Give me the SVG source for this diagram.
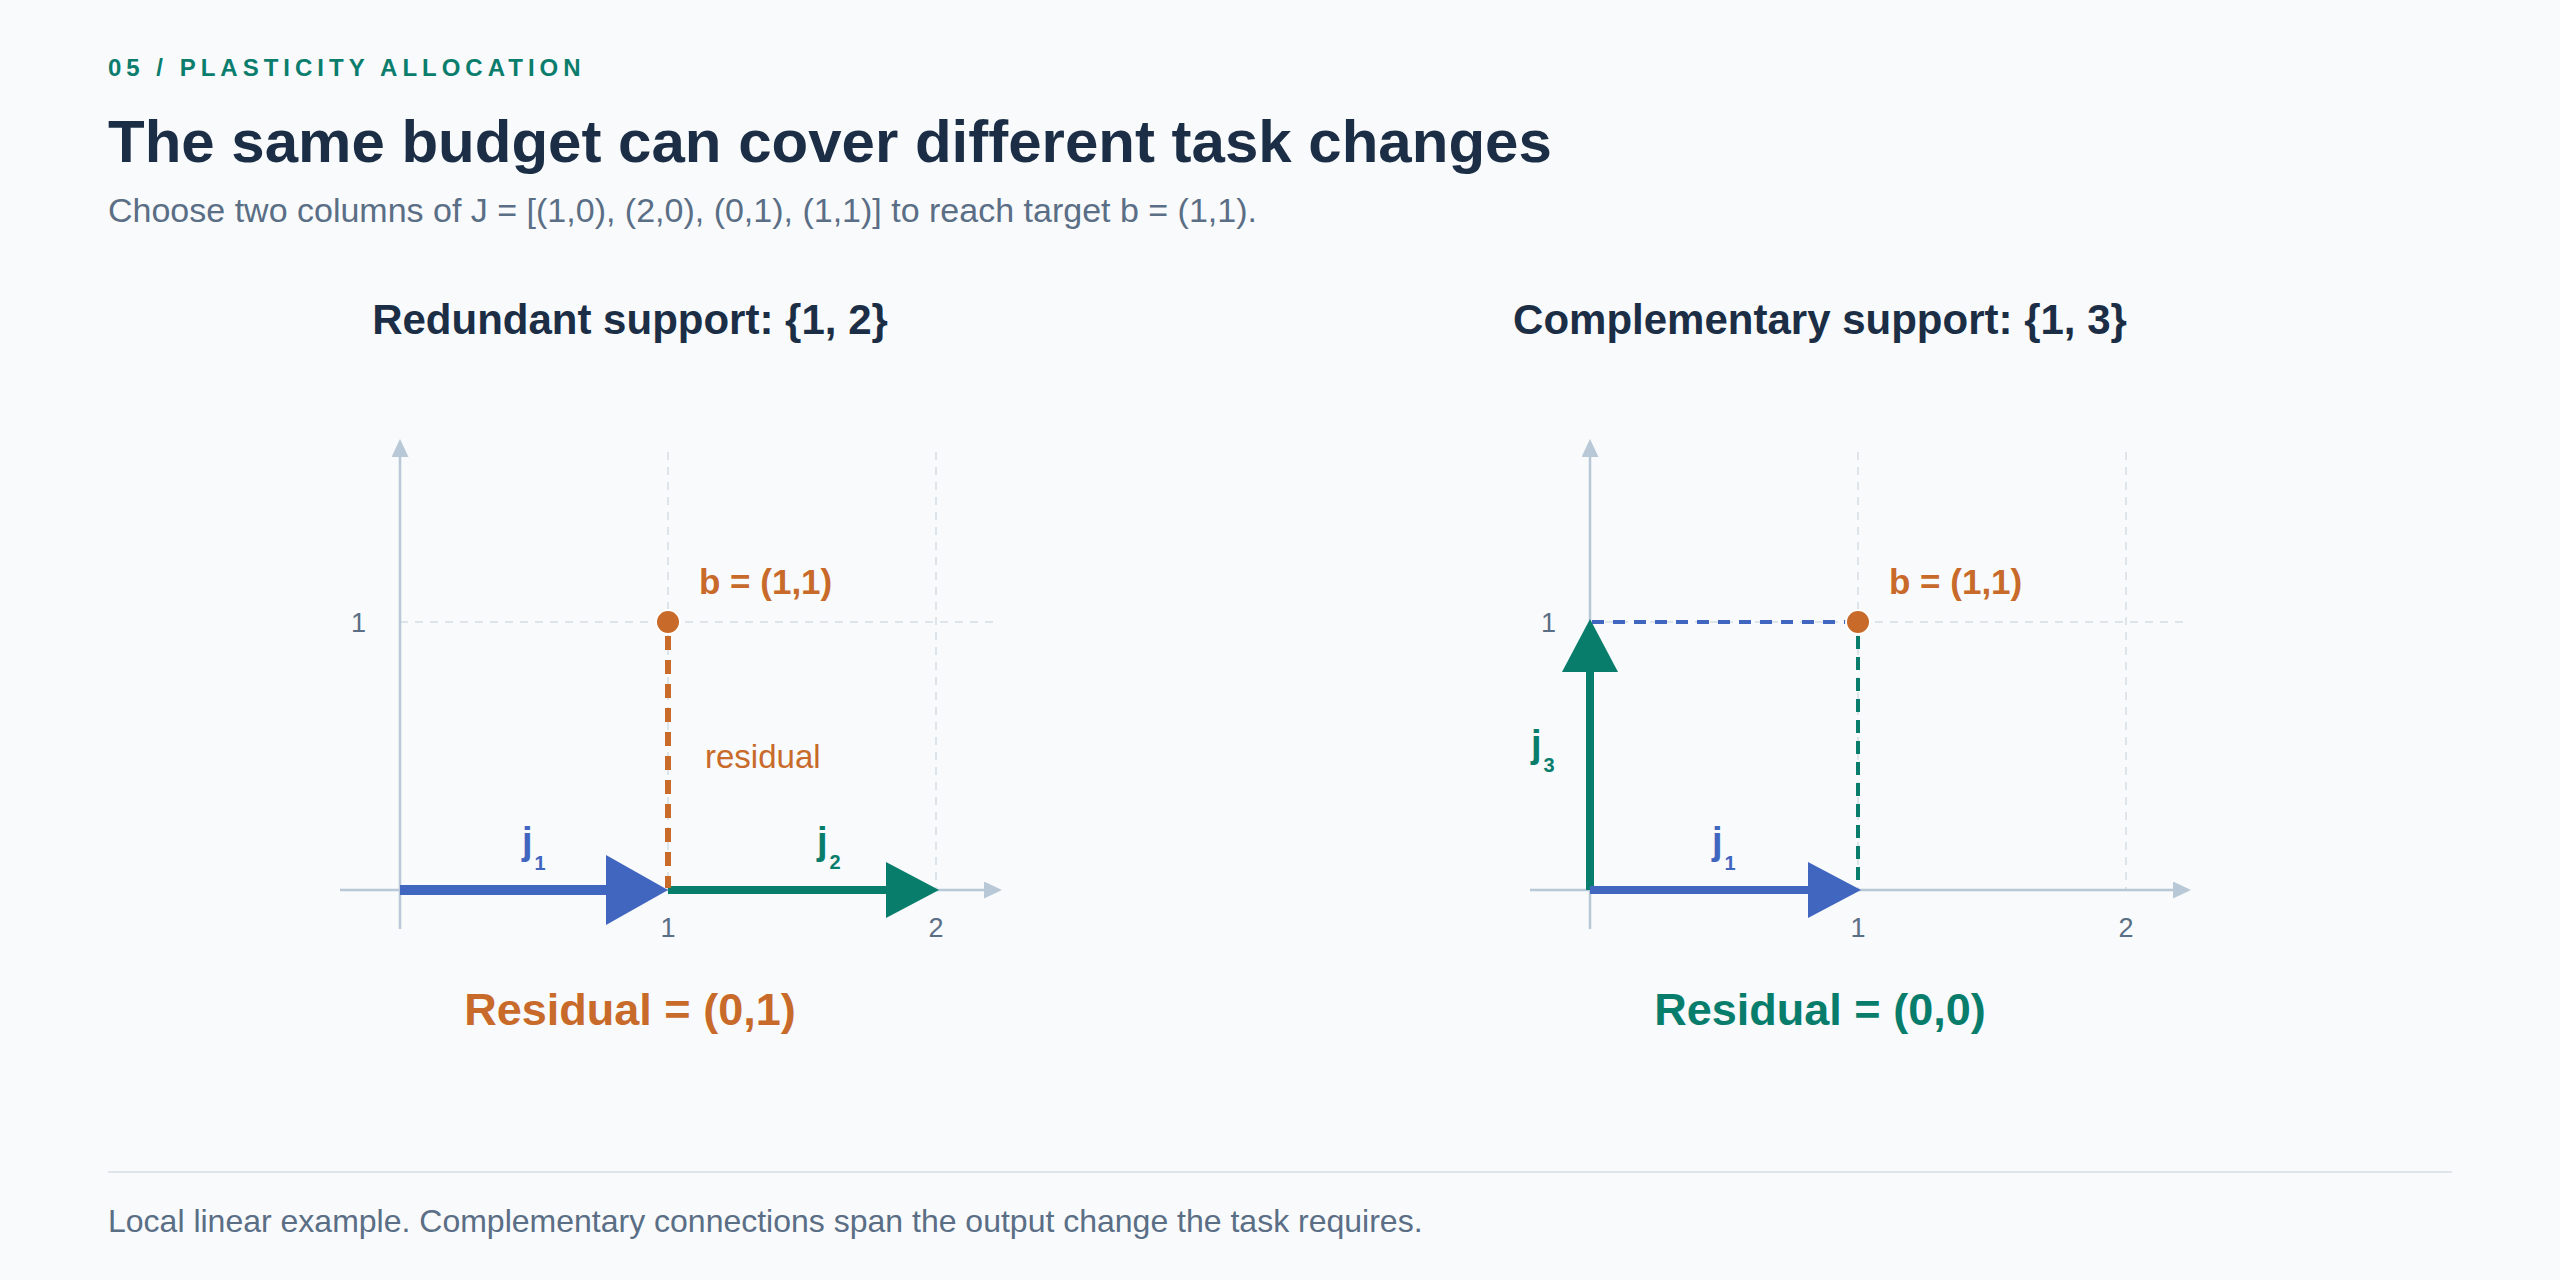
<svg xmlns="http://www.w3.org/2000/svg" width="2560" height="1280" viewBox="0 0 2560 1280">
<defs>
<style>
text{font-family:"Liberation Sans",Arial,sans-serif}
.kicker{font-size:24px;font-weight:700;fill:#0a7d6c;letter-spacing:5px}
.title{font-size:60px;font-weight:700;fill:#1b2e45}
.sub{font-size:34px;fill:#5a6e85}
.ptitle{font-size:42px;font-weight:700;fill:#1b2e45;text-anchor:middle}
.tick{font-size:27px;fill:#5a6e85}
.axis{stroke:#b8c8d6;stroke-width:2.5;fill:none}
.grid{stroke:#dde4ea;stroke-width:2;stroke-dasharray:8 7;fill:none}
.blab{font-size:35px;font-weight:700;fill:#c86a2a}
.jl{font-size:38px;font-weight:700}
.js{font-size:20px}
.res{font-size:45px;font-weight:700;text-anchor:middle}
.foot{font-size:32px;fill:#5a6e85}
.pt{fill:#c86a2a;stroke:#ffffff;stroke-width:2}
</style>
<marker id="ax" markerUnits="userSpaceOnUse" markerWidth="18" markerHeight="17" refX="0" refY="8.5" orient="auto"><path d="M0,0L18,8.5L0,17z" fill="#b8c8d6"/></marker>
<marker id="hBlueL" markerUnits="userSpaceOnUse" markerWidth="62" markerHeight="70" refX="42" refY="35" orient="auto"><path d="M0,0L62,35L0,70z" fill="#4166c0"/></marker>
<marker id="hBlue" markerUnits="userSpaceOnUse" markerWidth="53" markerHeight="56" refX="33" refY="28" orient="auto"><path d="M0,0L53,28L0,56z" fill="#4166c0"/></marker>
<marker id="hTeal" markerUnits="userSpaceOnUse" markerWidth="53" markerHeight="56" refX="33" refY="28" orient="auto"><path d="M0,0L53,28L0,56z" fill="#087d6c"/></marker>
</defs>
<rect x="0" y="0" width="2560" height="1280" fill="#f8fafc"/>

<g id="header">
<text class="kicker" x="108" y="76">05 / PLASTICITY ALLOCATION</text>
<text class="title" x="108" y="162">The same budget can cover different task changes</text>
<text class="sub" x="108" y="222">Choose two columns of J = [(1,0), (2,0), (0,1), (1,1)] to reach target b = (1,1).</text>
</g>

<g id="panel-redundant">
<text class="ptitle" x="630" y="334">Redundant support: {1, 2}</text>
<g id="axes-left">
<line class="grid" x1="668" y1="452" x2="668" y2="890"/>
<line class="grid" x1="936" y1="452" x2="936" y2="890"/>
<line class="grid" x1="400" y1="622" x2="1000" y2="622"/>
<line class="axis" x1="340" y1="890" x2="984" y2="890" marker-end="url(#ax)"/>
<line class="axis" x1="400" y1="929" x2="400" y2="457" marker-end="url(#ax)"/>
<text class="tick" x="668" y="937" text-anchor="middle">1</text>
<text class="tick" x="936" y="937" text-anchor="middle">2</text>
<text class="tick" x="366" y="632" text-anchor="end">1</text>
</g>
</g>

<g id="panel-complementary">
<text class="ptitle" x="1820" y="334">Complementary support: {1, 3}</text>
<g id="axes-right">
<line class="grid" x1="1858" y1="452" x2="1858" y2="890"/>
<line class="grid" x1="2126" y1="452" x2="2126" y2="890"/>
<line class="grid" x1="1590" y1="622" x2="2190" y2="622"/>
<line class="axis" x1="1530" y1="890" x2="2173" y2="890" marker-end="url(#ax)"/>
<line class="axis" x1="1590" y1="929" x2="1590" y2="457" marker-end="url(#ax)"/>
<text class="tick" x="1858" y="937" text-anchor="middle">1</text>
<text class="tick" x="2126" y="937" text-anchor="middle">2</text>
<text class="tick" x="1556" y="632" text-anchor="end">1</text>
</g>
</g>

<g id="connectors">
<line id="j1-left" x1="400" y1="890" x2="648" y2="890" stroke="#4166c0" stroke-width="10" marker-end="url(#hBlueL)"/>
<line id="j2-left" x1="668" y1="890" x2="919" y2="890" stroke="#087d6c" stroke-width="8" marker-end="url(#hTeal)"/>
<line id="residual-left" x1="668" y1="636" x2="668" y2="888" stroke="#c86a2a" stroke-width="6" stroke-dasharray="14 10"/>
<line id="j3-right" x1="1590" y1="890" x2="1590" y2="639" stroke="#087d6c" stroke-width="8" marker-end="url(#hTeal)"/>
<line id="j1-right" x1="1590" y1="890" x2="1841" y2="890" stroke="#4166c0" stroke-width="8" marker-end="url(#hBlue)"/>
<line id="proj-h-right" x1="1592" y1="622" x2="1846" y2="622" stroke="#4166c0" stroke-width="4" stroke-dasharray="12 9"/>
<line id="proj-v-right" x1="1858" y1="636" x2="1858" y2="888" stroke="#087d6c" stroke-width="4" stroke-dasharray="13 8"/>
</g>

<g id="target-left">
<circle class="pt" cx="668" cy="622" r="12"/>
<text class="blab" x="699" y="594">b = (1,1)</text>
</g>
<g id="target-right">
<circle class="pt" cx="1858" cy="622" r="12"/>
<text class="blab" x="1889" y="594">b = (1,1)</text>
</g>

<g id="labels">
<text x="705" y="768" font-size="33" fill="#c86a2a">residual</text>
<text class="jl" x="522" y="854" fill="#4166c0">j<tspan class="js" dx="2" dy="16">1</tspan></text>
<text class="jl" x="817" y="854" fill="#087d6c">j<tspan class="js" dx="2" dy="15">2</tspan></text>
<text class="jl" x="1712" y="854" fill="#4166c0">j<tspan class="js" dx="2" dy="16">1</tspan></text>
<text class="jl" x="1531" y="757" fill="#087d6c">j<tspan class="js" dx="2" dy="15">3</tspan></text>
</g>

<g id="results">
<text class="res" x="630" y="1025" fill="#c86a2a">Residual = (0,1)</text>
<text class="res" x="1820" y="1025" fill="#087d6c">Residual = (0,0)</text>
</g>

<g id="footer">
<line x1="108" y1="1172" x2="2452" y2="1172" stroke="#dde4ea" stroke-width="2"/>
<text class="foot" x="108" y="1232">Local linear example. Complementary connections span the output change the task requires.</text>
</g>
</svg>
